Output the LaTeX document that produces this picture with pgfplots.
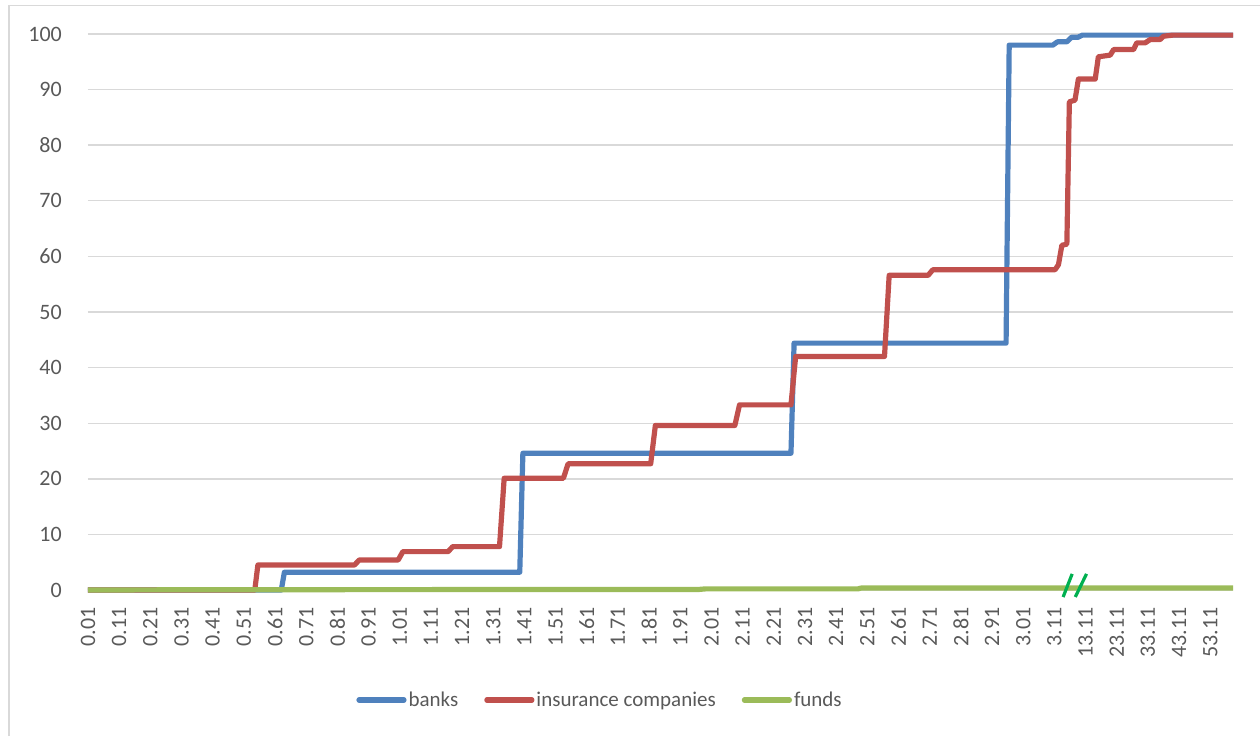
\documentclass[border=0pt]{standalone}
\usepackage{fontspec}
\setmainfont{Carlito}
\usepackage{pgfplots}
\pgfplotsset{compat=1.18}
\definecolor{cblue}{HTML}{4F81BD}
\definecolor{cred}{HTML}{C0504D}
\definecolor{cgreen}{HTML}{9BBB59}
\definecolor{gridc}{HTML}{D9D9D9}
\definecolor{txtc}{HTML}{595959}
\definecolor{breakc}{HTML}{00B050}
\newcommand{\cfont}{\fontsize{22}{26}\selectfont}
\newcommand{\lfont}{\fontsize{21}{25}\selectfont}
\begin{document}
\begin{tikzpicture}
\useasboundingbox (-88pt,-146pt) rectangle (1172pt,590pt);
\draw[color=gridc, line width=1.5pt] (-79pt,-146pt) -- (-79pt,584.3pt) -- (1172pt,584.3pt);
\begin{axis}[
  at={(0pt,0pt)}, anchor=south west,
  scale only axis, width=1145pt, height=556pt,
  xmin=0, xmax=36.73, ymin=0, ymax=100,
  clip=false,
  axis line style={draw=none},
  major tick length=0pt,
  ymajorgrids,
  grid style={color=gridc, line width=1.4pt},
  ytick={0,10,...,100},
  xtick={0,1,...,36},
  xticklabels={0.01,0.11,0.21,0.31,0.41,0.51,0.61,0.71,0.81,0.91,1.01,1.11,1.21,1.31,1.41,1.51,1.61,1.71,1.81,1.91,2.01,2.11,2.21,2.31,2.41,2.51,2.61,2.71,2.81,2.91,3.01,3.11,13.11,23.11,33.11,43.11,53.11},
  /pgf/number format/assume math mode=true,
  ticklabel style={font=\cfont, text=txtc, inner sep=0pt},
  xticklabel style={rotate=90, anchor=east},
  yticklabel style={anchor=east},
  xticklabel shift=17pt,
  yticklabel shift=26pt,
  legend columns=3,
  legend style={draw=none, fill=none, font=\lfont, text=txtc,
    at={(0.4472,-0.198)}, anchor=center,
    /tikz/every even column/.append style={column sep=24pt},
    nodes={inner sep=2pt}},
  legend image code/.code={\draw[#1, line cap=round] (0pt,0pt) -- (45pt,0pt);},
  every axis plot/.append style={line width=5.2pt, line join=round},
]
\addplot[color=cblue] coordinates {
(0,0) (6.2,0) (6.3,3.2) (13.85,3.2) (13.95,24.6) (22.55,24.6) (22.65,44.4)
(29.45,44.4) (29.55,98.0) (30.95,98.0) (31.1,98.6) (31.4,98.6) (31.55,99.4)
(31.75,99.4) (31.9,99.8) (36.73,99.8)};
\addlegendentry{banks}
\addplot[color=cred] coordinates {
(0,0) (5.35,0) (5.45,4.5) (8.55,4.5) (8.7,5.4) (9.95,5.4) (10.1,6.9)
(11.55,6.9) (11.7,7.8) (13.2,7.8) (13.35,20.1) (15.25,20.1) (15.4,22.7)
(18.05,22.7) (18.2,29.6) (20.75,29.6) (20.9,33.3) (22.55,33.3) (22.7,42.0)
(25.55,42.0) (25.7,56.6) (26.95,56.6) (27.1,57.6) (31.02,57.6) (31.13,58.5)
(31.24,62.0) (31.4,62.2) (31.48,87.8) (31.66,88.1) (31.77,91.9) (32.31,91.9)
(32.41,95.9) (32.79,96.2) (32.9,97.2) (33.54,97.2) (33.64,98.4) (33.91,98.4)
(34.07,99.0) (34.39,99.0) (34.5,99.6) (34.8,99.8) (36.73,99.8)};
\addlegendentry{insurance companies}
\addplot[color=cgreen] coordinates {
(0,0) (4,0.05) (19.6,0.1) (19.8,0.2) (24.7,0.2) (24.8,0.35) (36.73,0.35)};
\addlegendentry{funds}
\draw[color=breakc, line width=3.2pt] (axis cs:31.28,-1.26) -- (axis cs:31.57,2.9);
\draw[color=breakc, line width=3.2pt] (axis cs:31.67,-1.26) -- (axis cs:32.03,2.9);
\end{axis}
\end{tikzpicture}
\end{document}
